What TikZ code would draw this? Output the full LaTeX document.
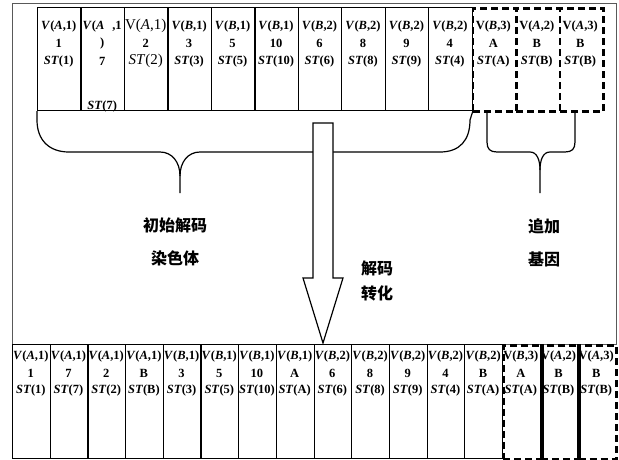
\documentclass[tikz,border=0pt]{standalone}
\usepackage{fontspec}
\usetikzlibrary{calc}
\setmainfont{Liberation Serif}
\newfontfamily\cjk{Noto Sans CJK SC}
\newcommand\vv[2]{\textit{V}(\textit{#1},#2)}
\newcommand\vu[2]{V(\textit{#1},#2)}
\newcommand\stt[1]{\textit{ST}(#1)}
\tikzset{
  cellbox/.style={draw, line width=1.2pt, inner sep=0pt, anchor=north west},
  dcellbox/.style={cellbox, dash pattern=on 7pt off 4pt, line width=2.6pt},
  txt/.style={font=\bfseries\fontsize{12.5}{14}\selectfont, inner sep=0pt, anchor=center},
  cjklabel/.style={font=\cjk\bfseries\fontsize{16}{18}\selectfont, inner sep=0pt},
  brace/.style={line width=1.2pt},
  sep/.style={line width=2.6pt},
}
\begin{document}
\begin{tikzpicture}[x=1pt,y=-1pt]
\useasboundingbox (0,0) rectangle (619,459);
% outer frame
\draw[gray!70!black, line width=0.9pt] (12,3) rectangle (616,344);
% ---- top row
\def\tw{43.46}
\foreach \i/\a/\b/\c in {0/{\vv{A}{1}}/1/{\stt{1}},
  3/{\vv{B}{1}}/3/{\stt{3}}, 4/{\vv{B}{1}}/5/{\stt{5}}, 5/{\vv{B}{1}}/10/{\stt{10}},
  6/{\vv{B}{2}}/6/{\stt{6}}, 7/{\vv{B}{2}}/8/{\stt{8}}, 8/{\vv{B}{2}}/9/{\stt{9}},
  9/{\vv{B}{2}}/4/{\stt{4}}}{
  \node[cellbox, minimum width=\tw pt, minimum height=103pt] (t\i) at ({37+\i*\tw},7) {};
  \node[txt] (t\i a) at ({37+(\i+0.5)*\tw},26) {\a};
  \node[txt] (t\i b) at ({37+(\i+0.5)*\tw},43) {\b};
  \node[txt] (t\i c) at ({37+(\i+0.5)*\tw},61) {\c};
}
% special cell 1
\node[cellbox, minimum width=\tw pt, minimum height=103pt] (t1) at ({37+1*\tw},7) {};
\node[txt] (t1a) at ({37+1.5*\tw},26) {\textit{V}(\textit{A}\hspace{8pt},1};
\node[txt] (t1b) at ({37+1.5*\tw},43) {)};
\node[txt] (t1c) at ({37+1.5*\tw},61) {7};
\node[txt] (t1d) at ({37+1.5*\tw},106) {\stt{7}};
% special cell 2
\node[cellbox, minimum width=\tw pt, minimum height=103pt] (t2) at ({37+2*\tw},7) {};
\node[txt, font=\fontsize{15}{17}\selectfont] (t2a) at ({37+2.5*\tw},26) {\vu{A}{1}};
\node[txt] (t2b) at ({37+2.5*\tw},43) {2};
\node[txt, font=\fontsize{15}{17}\selectfont] (t2c) at ({37+2.5*\tw},61) {\stt{2}};
% dashed cells
\foreach \i/\a/\b/\c in {10/{\vu{B}{3}}/A/{\stt{A}}, 11/{\vu{A}{2}}/B/{\stt{B}}, 12/{\vu{A}{3}}/B/{\stt{B}}}{
  \node[dcellbox, minimum width=\tw pt, minimum height=103pt] (t\i) at ({37+\i*\tw},7) {};
  \node[txt] (t\i a) at ({37+(\i+0.5)*\tw},26) {\a};
  \node[txt] (t\i b) at ({37+(\i+0.5)*\tw},43) {\b};
  \node[txt] (t\i c) at ({37+(\i+0.5)*\tw},61) {\c};
}
% ---- braces
\coordinate (lbtip) at (180,193);
\coordinate (rbtip) at (540,193);
\draw[brace] (t0.south west) -- (37,120) .. controls (37,140) and (49,152) .. (69,152)
  -- (160,152) .. controls (172,152) and (180,162) .. (180,176) -- (lbtip);
\draw[brace] (180,176) .. controls (180,162) and (188,152) .. (200,152)
  -- (440,152) .. controls (460,152) and (470,140) .. (470,120) -- (t9.south east);
\draw[brace] (487,110) -- (487,142) .. controls (487,149) and (490,152) .. (497,152)
  -- (530,152) .. controls (537,152) and (540,160) .. (540,170) -- (rbtip);
\draw[brace] (575,110) -- (575,142) .. controls (575,149) and (572,152) .. (565,152)
  -- (550,152) .. controls (543,152) and (540,160) .. (540,170);
% ---- labels
\node[cjklabel] (l1) at (175,225) {初始解码};
\node[cjklabel] (l2) at (175,258) {染色体};
\node[cjklabel] (l3) at (544,226) {追加};
\node[cjklabel] (l4) at (544,259) {基因};
\node[cjklabel] (l5) at (377,268) {解码};
\node[cjklabel] (l6) at (377,293) {转化};
% ---- bottom row
\def\bw{37.69}
\foreach \i/\a/\b/\c in {0/{\vv{A}{1}}/1/{\stt{1}}, 1/{\vv{A}{1}}/7/{\stt{7}},
  2/{\vv{A}{1}}/2/{\stt{2}}, 3/{\vv{A}{1}}/B/{\stt{B}},
  4/{\vv{B}{1}}/3/{\stt{3}}, 5/{\vv{B}{1}}/5/{\stt{5}}, 6/{\vv{B}{1}}/10/{\stt{10}},
  7/{\vv{B}{1}}/A/{\stt{A}}, 8/{\vv{B}{2}}/6/{\stt{6}}, 9/{\vv{B}{2}}/8/{\stt{8}},
  10/{\vv{B}{2}}/9/{\stt{9}}, 11/{\vv{B}{2}}/4/{\stt{4}}, 12/{\vv{B}{2}}/B/{\stt{A}}}{
  \node[cellbox, minimum width=\bw pt, minimum height=114pt] (b\i) at ({12+\i*\bw},344) {};
  \node[txt] (b\i a) at ({12+(\i+0.5)*\bw},356) {\a};
  \node[txt] (b\i b) at ({12+(\i+0.5)*\bw},373) {\b};
  \node[txt] (b\i c) at ({12+(\i+0.5)*\bw},390) {\c};
}
\foreach \i/\a/\b/\c in {13/{\vu{B}{3}}/A/{\stt{A}}, 14/{\vu{A}{2}}/B/{\stt{B}}, 15/{\vu{A}{3}}/B/{\stt{B}}}{
  \node[dcellbox, minimum width=\bw pt, minimum height=114pt] (b\i) at ({12+\i*\bw},344) {};
  \node[txt] (b\i a) at ({12+(\i+0.5)*\bw},356) {\a};
  \node[txt] (b\i b) at ({12+(\i+0.5)*\bw},373) {\b};
  \node[txt] (b\i c) at ({12+(\i+0.5)*\bw},390) {\c};
}
\draw[sep] (b13.north east) -- (b13.south east);
\draw[sep] (b14.north east) -- (b14.south east);
% ---- block arrow
\coordinate (arrtop) at (323,123);
\coordinate (arrtip) at (323,343);
\draw[line width=1.2pt, fill=white, line join=miter]
  ($(arrtop)+(-10,0)$) -- ($(arrtop)+(10,0)$) -- (333,278) -- (343,278) -- (arrtip)
  -- (303,278) -- (313,278) -- cycle;
\end{tikzpicture}
\end{document}
